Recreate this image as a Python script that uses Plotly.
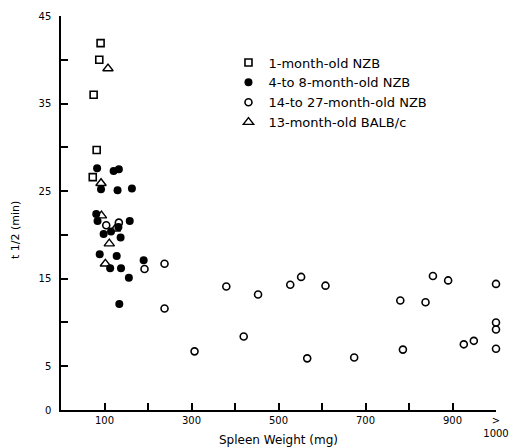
import plotly.graph_objects as go

# 1-month-old NZB
sq_x = [91, 88, 75, 82, 73]
sq_y = [41.9, 40.0, 36.0, 29.7, 26.6]

# 4- to 8-month-old NZB
fc_x = [83, 121, 133, 92, 130, 163, 81, 84, 158, 132, 115, 98, 137, 89, 128, 190, 113, 138, 156, 134]
fc_y = [27.6, 27.3, 27.5, 25.2, 25.1, 25.3, 22.4, 21.6, 21.6, 20.9, 20.4, 20.1, 19.7, 17.8, 17.6, 17.1, 16.2, 16.2, 15.1, 12.1]

# 14- to 27-month-old NZB
oc_x = [104, 133, 192, 238, 238, 307, 380, 420, 453, 527, 552, 608, 566, 674, 780, 838, 855, 890, 786, 926, 949, 1000, 1000, 1000, 1000]
oc_y = [21.1, 21.4, 16.1, 16.7, 11.6, 6.7, 14.1, 8.4, 13.2, 14.3, 15.2, 14.2, 5.9, 6.0, 12.5, 12.3, 15.3, 14.8, 6.9, 7.5, 7.9, 14.4, 10.0, 9.2, 7.0]

# 13-month-old BALB/c
tr_x = [108, 92, 93, 125, 111, 102]
tr_y = [39.0, 25.9, 22.2, 20.7, 19.0, 16.7]

x_tickvals = [100, 200, 300, 400, 500, 600, 700, 800, 900, 1000]
x_ticktext = ["100", "", "300", "", "500", "", "700", "", "900", "><br>1000"]
y_tickvals = [0, 5, 10, 15, 20, 25, 30, 35, 40, 45]
y_ticktext = ["0", "5", "", "15", "", "25", "", "35", "", "45"]

font = "DejaVu Sans"

fig = go.Figure()
fig.add_trace(go.Scatter(x=sq_x, y=sq_y, mode="markers", name="1-month-old NZB",
                         marker=dict(symbol="square-open", size=7, color="black", line=dict(width=1.6))))
fig.add_trace(go.Scatter(x=fc_x, y=fc_y, mode="markers", name="4-to 8-month-old NZB",
                         marker=dict(symbol="circle", size=8, color="black")))
fig.add_trace(go.Scatter(x=oc_x, y=oc_y, mode="markers", name="14-to 27-month-old NZB",
                         marker=dict(symbol="circle-open", size=7, color="black", line=dict(width=1.6))))
fig.add_trace(go.Scatter(x=tr_x, y=tr_y, mode="markers", name="13-month-old BALB/c",
                         marker=dict(symbol="triangle-up-open", size=9, color="black", line=dict(width=1.4))))
fig.update_traces(cliponaxis=False)

# page body has an 8px margin, so the figure is sized to the visible area
W, H = 509, 439
L, T, PW, PH = 53, 8, 435, 394

fig.update_layout(
    width=W, height=H,
    margin=dict(l=L, r=W - L - PW, t=T, b=H - T - PH, autoexpand=False),
    plot_bgcolor="white", paper_bgcolor="white",
    font=dict(family=font, color="black", size=10),
    showlegend=True,
    legend=dict(x=0.385, y=0.92, xanchor="left", yanchor="top",
                bgcolor="rgba(0,0,0,0)", font=dict(size=13, family=font),
                itemwidth=30, tracegroupgap=0),
    xaxis=dict(range=[0, 1000], showline=True, linecolor="black", linewidth=1.5,
               showgrid=False, zeroline=False, ticks="inside", ticklen=7, tickwidth=1.5,
               tickcolor="black", tickvals=x_tickvals, ticktext=x_ticktext,
               tickfont=dict(size=10, family=font), automargin=False,
               title=dict(text="Spleen Weight (mg)", font=dict(size=12, family=font), standoff=11)),
    yaxis=dict(range=[0, 45], showline=True, linecolor="black", linewidth=1.5,
               showgrid=False, zeroline=False, ticks="inside", ticklen=7, tickwidth=1.5,
               tickcolor="black", tickvals=y_tickvals, ticktext=y_ticktext,
               tickfont=dict(size=10, family=font), ticklabelstandoff=6, automargin=False),
    annotations=[dict(text="t 1/2 (min)", textangle=-90, xref="paper", yref="paper",
                      x=(8 - L) / PW, y=(402 - 222) / PH, showarrow=False,
                      font=dict(size=11, family=font), xanchor="center", yanchor="middle")],
)

fig.write_html("out.html")
